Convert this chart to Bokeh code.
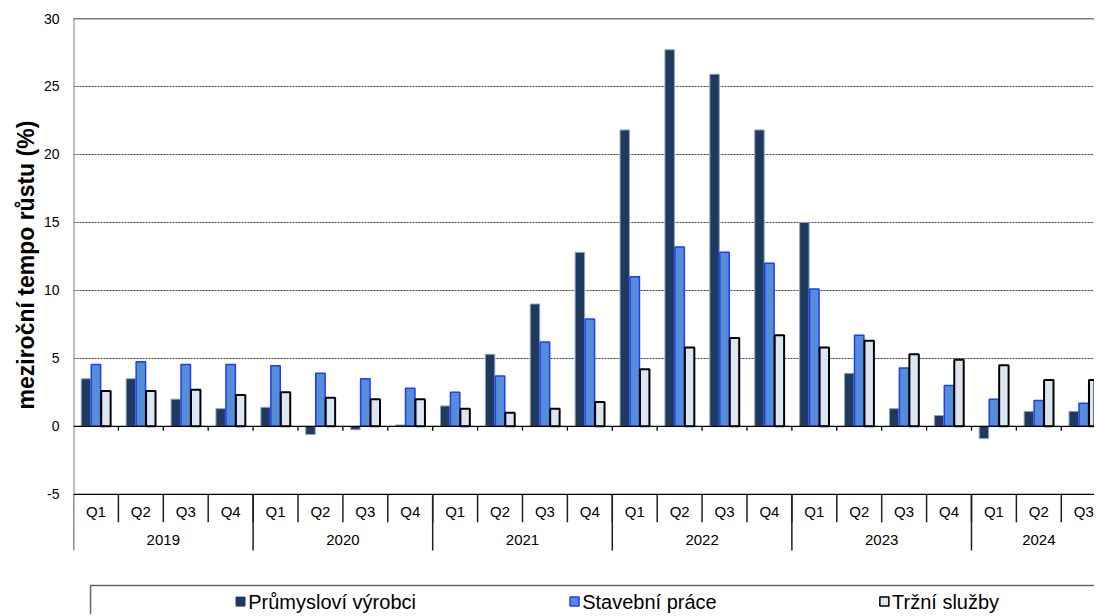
import numpy as np
from bokeh.plotting import figure
from bokeh.models import Range1d, FixedTicker, Span, Title
from bokeh.core.properties import value
from bokeh.embed import file_html
from bokeh.resources import INLINE

# ---- data ----
quarters = ["Q1", "Q2", "Q3", "Q4"] * 5 + ["Q1", "Q2", "Q3"]
years = ["2019", "2020", "2021", "2022", "2023", "2024"]
year_quarters = [4, 4, 4, 4, 4, 3]
series_names = ["Průmysloví výrobci", "Stavební práce", "Tržní služby"]
prumysl = [3.5, 3.5, 2.0, 1.3, 1.4, -0.6, -0.25, 0.1, 1.5, 5.3, 9.0, 12.8,
           21.8, 27.7, 25.9, 21.8, 15.0, 3.9, 1.3, 0.8, -0.9, 1.1, 1.1]
stavebni = [4.55, 4.75, 4.55, 4.55, 4.45, 3.9, 3.5, 2.8, 2.5, 3.7, 6.2, 7.9,
            11.0, 13.2, 12.8, 12.0, 10.1, 6.7, 4.3, 3.0, 2.0, 1.9, 1.7]
trzni = [2.6, 2.6, 2.7, 2.3, 2.5, 2.1, 2.0, 2.0, 1.3, 1.0, 1.3, 1.8,
         4.2, 5.8, 6.5, 6.7, 5.8, 6.3, 5.3, 4.9, 4.5, 3.4, 3.4]
y_ticks = [-5, 0, 5, 10, 15, 20, 25, 30]

FONT = value("Liberation Sans")
n = len(quarters)
idx = np.arange(n)

p = figure(width=1094, height=614, x_range=Range1d(0, 22.74), y_range=Range1d(-13.84, 30),
           output_backend="svg", toolbar_location=None,
           min_border_left=73, min_border_right=0, min_border_top=18, min_border_bottom=0)
p.outline_line_color = None
p.xaxis.visible = False
p.xgrid.visible = False
p.ygrid[0].ticker = FixedTicker(ticks=[5, 10, 15, 20, 25])
p.ygrid.grid_line_color = "#404040"
p.ygrid.grid_line_dash = "2 1"
p.ygrid.grid_line_width = 1

ax = p.yaxis[0]
ax.ticker = FixedTicker(ticks=y_ticks)
ax.major_label_overrides = {t: str(t) for t in y_ticks}
ax.axis_line_color = None
ax.major_tick_line_color = None
ax.minor_tick_line_color = None
ax.major_tick_out = 0
ax.major_tick_in = 0
ax.major_label_standoff = 14
ax.major_label_text_font = "Liberation Sans"
ax.major_label_text_font_size = "14px"
ax.major_label_text_color = "#000000"

p.add_layout(Title(text="meziroční tempo růstu (%)", align="left", offset=205, standoff=4,
                   text_font="Liberation Sans", text_font_style="bold",
                   text_font_size="23px", text_color="#000000"), "left")

# horizontal solid lines
for loc in (30, 0, -5):
    p.add_layout(Span(location=loc, dimension="width", line_color="#000000", line_width=1.3))

# bars
w = 0.21
off = 0.222
p.vbar(x=idx + 0.5 - off, top=prumysl, bottom=0, width=w,
       fill_color="#1F3A5F", line_color="#8FA3BD", line_width=1)
p.vbar(x=idx + 0.5, top=stavebni, bottom=0, width=w,
       fill_color="#558ED5", line_color="#1F3BFF", line_width=1.5)
p.vbar(x=idx + 0.5 + off, top=trzni, bottom=0, width=w,
       fill_color="#DCE6F2", line_color="#000000", line_width=2)

# left axis line
p.segment(x0=[0], y0=[30], x1=[0], y1=[-5], line_color="#808080", line_width=2)
p.segment(x0=[0], y0=[-5], x1=[0], y1=[-9.13], line_color="#202020", line_width=1.5)

# ticks on zero line
bnd = np.arange(1, n)
p.segment(x0=bnd, y0=np.zeros(len(bnd)), x1=bnd, y1=np.full(len(bnd), -0.32),
          line_color="#000000", line_width=1.3)

# category table
p.segment(x0=bnd, y0=np.full(len(bnd), -5), x1=bnd, y1=np.full(len(bnd), -7.06),
          line_color="#202020", line_width=1.5)
ybounds = np.cumsum(year_quarters)[:-1]
p.segment(x0=ybounds, y0=np.full(len(ybounds), -5), x1=ybounds, y1=np.full(len(ybounds), -9.13),
          line_color="#202020", line_width=1.5)

p.text(x=idx + 0.5, y=np.full(n, -6.25), text=quarters, text_align="center",
       text_baseline="middle", text_font=FONT, text_font_size="15px", text_color="#000000")
ystarts = np.concatenate([[0], np.cumsum(year_quarters)[:-1]])
ycenters = ystarts + np.array(year_quarters) / 2
p.text(x=ycenters, y=np.full(len(years), -8.39), text=years, text_align="center",
       text_baseline="middle", text_font=FONT, text_font_size="15px", text_color="#000000")

# legend box
p.quad(left=[0.38], right=[30], top=[-11.71], bottom=[-20], fill_color=None,
       line_color="#666666", line_width=1.5)
leg_x = [3.72, 11.16, 18.06]
leg_y = -12.89
p.scatter(x=[leg_x[0]], y=[leg_y], marker="square", size=9, fill_color="#1F3A5F", line_color="#1F3A5F")
p.scatter(x=[leg_x[1]], y=[leg_y], marker="square", size=9, fill_color="#558ED5", line_color="#1F3BFF", line_width=1.5)
p.scatter(x=[leg_x[2]], y=[leg_y], marker="square", size=9, fill_color="#DCE6F2", line_color="#000000", line_width=1.5)
p.text(x=[x + 0.17 for x in leg_x], y=[leg_y] * 3, text=series_names, text_align="left",
       text_baseline="middle", text_font=FONT, text_font_size="20px", text_color="#000000")

open("out.html", "w").write(file_html(p, INLINE))
